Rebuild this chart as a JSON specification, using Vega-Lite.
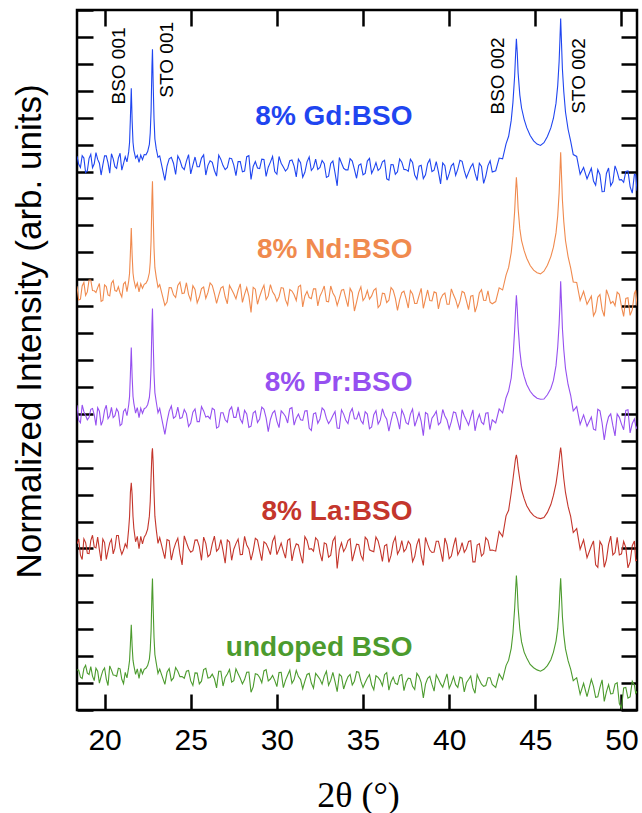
{
"$schema":"https://vega.github.io/schema/vega-lite/v6.json",
"width":560,"height":700,
"autosize":{"type":"none"},
"padding":{"left":77,"top":10,"right":5,"bottom":103},
"background":"white",
"config":{"view":{"stroke":"black","strokeWidth":2.5},"font":"Liberation Sans","axis":{"tickColor":"black","tickWidth":2.5,"domain":false,"grid":false}},
"datasets":{
"labels":[
{"label":"8% Gd:BSO","s":"Gd","x":37.87,"y":22.03},
{"label":"8% Nd:BSO","s":"Nd","x":37.87,"y":17.09},
{"label":"8% Pr:BSO","s":"Pr","x":37.87,"y":12.15},
{"label":"8% La:BSO","s":"La","x":37.87,"y":7.36},
{"label":"undoped BSO","s":"Un","x":37.87,"y":2.3}],
"peaks":[
{"t":"BSO 001","x":20.86,"y":23.92},
{"t":"STO 001","x":23.64,"y":24.15},
{"t":"BSO 002","x":42.81,"y":23.55},
{"t":"STO 002","x":47.51,"y":23.55}],
"xrd":[
{"s":"Gd","x":18.4,"y":20.57},{"s":"Gd","x":18.6,"y":20.15},{"s":"Gd","x":18.8,"y":20.5},{"s":"Gd","x":19.0,"y":20.03},{"s":"Gd","x":19.2,"y":20.64},{"s":"Gd","x":19.4,"y":20.29},{"s":"Gd","x":19.6,"y":20.45},{"s":"Gd","x":19.8,"y":19.87},{"s":"Gd","x":20.0,"y":20.58},{"s":"Gd","x":20.2,"y":20.32},{"s":"Gd","x":20.4,"y":20.66},{"s":"Gd","x":20.6,"y":20.18},{"s":"Gd","x":20.8,"y":20.5},{"s":"Gd","x":21.0,"y":20.05},{"s":"Gd","x":21.2,"y":20.55},
{"s":"Gd","x":21.3,"y":20.36},{"s":"Gd","x":21.4,"y":20.73},{"s":"Gd","x":21.45,"y":21.08},{"s":"Gd","x":21.5,"y":22.01},{"s":"Gd","x":21.55,"y":23.09},{"s":"Gd","x":21.6,"y":21.89},{"s":"Gd","x":21.65,"y":21.09},{"s":"Gd","x":21.7,"y":20.79},{"s":"Gd","x":21.8,"y":20.5},{"s":"Gd","x":21.9,"y":20.6},{"s":"Gd","x":22.0,"y":20.34},{"s":"Gd","x":22.1,"y":20.61},{"s":"Gd","x":22.2,"y":20.44},{"s":"Gd","x":22.3,"y":20.63},{"s":"Gd","x":22.4,"y":20.62},{"s":"Gd","x":22.5,"y":20.74},{"s":"Gd","x":22.6,"y":21.01},{"s":"Gd","x":22.65,"y":21.43},{"s":"Gd","x":22.7,"y":22.26},{"s":"Gd","x":22.75,"y":23.92},{"s":"Gd","x":22.78,"y":24.54},{"s":"Gd","x":22.82,"y":23.29},{"s":"Gd","x":22.87,"y":21.96},{"s":"Gd","x":22.92,"y":21.21},{"s":"Gd","x":23.0,"y":20.84},{"s":"Gd","x":23.1,"y":20.53},{"s":"Gd","x":23.2,"y":20.58},
{"s":"Gd","x":23.5,"y":19.67},{"s":"Gd","x":23.75,"y":20.47},{"s":"Gd","x":24,"y":20.31},{"s":"Gd","x":24.25,"y":20.58},{"s":"Gd","x":24.5,"y":20.16},{"s":"Gd","x":24.75,"y":20.39},{"s":"Gd","x":25,"y":19.91},{"s":"Gd","x":25.25,"y":20.54},{"s":"Gd","x":25.5,"y":20.18},{"s":"Gd","x":25.75,"y":20.62},{"s":"Gd","x":26,"y":20.23},{"s":"Gd","x":26.25,"y":20.34},{"s":"Gd","x":26.5,"y":19.83},{"s":"Gd","x":26.75,"y":20.45},{"s":"Gd","x":27,"y":20.07},{"s":"Gd","x":27.25,"y":20.5},{"s":"Gd","x":27.5,"y":20.24},{"s":"Gd","x":27.75,"y":20.37},{"s":"Gd","x":28,"y":19.99},{"s":"Gd","x":28.25,"y":20.55},{"s":"Gd","x":28.5,"y":19.71},{"s":"Gd","x":28.75,"y":20.37},{"s":"Gd","x":29,"y":20.11},{"s":"Gd","x":29.25,"y":20.45},{"s":"Gd","x":29.5,"y":20.16},{"s":"Gd","x":29.75,"y":20.56},{"s":"Gd","x":30,"y":19.9},{"s":"Gd","x":30.25,"y":20.31},{"s":"Gd","x":30.5,"y":20.02},{"s":"Gd","x":30.75,"y":20.4},{"s":"Gd","x":31,"y":20.2},{"s":"Gd","x":31.25,"y":20.46},{"s":"Gd","x":31.5,"y":19.79},{"s":"Gd","x":31.75,"y":20.36},{"s":"Gd","x":32,"y":20.04},{"s":"Gd","x":32.25,"y":20.46},{"s":"Gd","x":32.5,"y":20.15},{"s":"Gd","x":32.75,"y":20.29},{"s":"Gd","x":33,"y":19.83},{"s":"Gd","x":33.25,"y":20.39},{"s":"Gd","x":33.5,"y":19.47},{"s":"Gd","x":33.75,"y":20.32},{"s":"Gd","x":34,"y":20.06},{"s":"Gd","x":34.25,"y":20.48},{"s":"Gd","x":34.5,"y":20.08},{"s":"Gd","x":34.75,"y":20.23},{"s":"Gd","x":35,"y":19.88},{"s":"Gd","x":35.25,"y":20.39},{"s":"Gd","x":35.5,"y":19.93},{"s":"Gd","x":35.75,"y":20.33},{"s":"Gd","x":36,"y":20.12},{"s":"Gd","x":36.25,"y":20.42},{"s":"Gd","x":36.5,"y":19.68},{"s":"Gd","x":36.75,"y":20.25},{"s":"Gd","x":37,"y":19.99},{"s":"Gd","x":37.25,"y":20.35},{"s":"Gd","x":37.5,"y":20.07},{"s":"Gd","x":37.75,"y":20.46},{"s":"Gd","x":38,"y":19.87},{"s":"Gd","x":38.25,"y":20.2},{"s":"Gd","x":38.5,"y":19.74},{"s":"Gd","x":38.75,"y":20.3},{"s":"Gd","x":39,"y":20.0},{"s":"Gd","x":39.25,"y":20.37},{"s":"Gd","x":39.5,"y":19.54},{"s":"Gd","x":39.75,"y":20.22},{"s":"Gd","x":40,"y":19.92},{"s":"Gd","x":40.25,"y":20.3},{"s":"Gd","x":40.5,"y":20.09},{"s":"Gd","x":40.75,"y":20.38},{"s":"Gd","x":41,"y":19.77},{"s":"Gd","x":41.25,"y":20.17},{"s":"Gd","x":41.5,"y":19.94},{"s":"Gd","x":41.75,"y":20.31},{"s":"Gd","x":42,"y":19.56},{"s":"Gd","x":42.25,"y":20.22},{"s":"Gd","x":42.5,"y":19.98},
{"s":"Gd","x":42.7,"y":20.03},{"s":"Gd","x":42.9,"y":20.5},{"s":"Gd","x":43.1,"y":20.47},{"s":"Gd","x":43.3,"y":21.03},{"s":"Gd","x":43.45,"y":21.31},{"s":"Gd","x":43.6,"y":21.9},{"s":"Gd","x":43.7,"y":22.57},{"s":"Gd","x":43.8,"y":23.56},{"s":"Gd","x":43.85,"y":24.3},{"s":"Gd","x":43.9,"y":24.93},{"s":"Gd","x":43.95,"y":24.41},{"s":"Gd","x":44.0,"y":23.67},{"s":"Gd","x":44.1,"y":22.84},{"s":"Gd","x":44.2,"y":22.36},{"s":"Gd","x":44.35,"y":21.94},{"s":"Gd","x":44.5,"y":21.63},{"s":"Gd","x":44.7,"y":21.34},{"s":"Gd","x":44.9,"y":21.14},{"s":"Gd","x":45.1,"y":21.02},{"s":"Gd","x":45.3,"y":20.97},{"s":"Gd","x":45.5,"y":21.07},{"s":"Gd","x":45.7,"y":21.3},{"s":"Gd","x":45.9,"y":21.62},{"s":"Gd","x":46.05,"y":21.98},{"s":"Gd","x":46.2,"y":22.54},{"s":"Gd","x":46.3,"y":23.2},{"s":"Gd","x":46.38,"y":24.09},{"s":"Gd","x":46.43,"y":24.94},{"s":"Gd","x":46.47,"y":25.68},{"s":"Gd","x":46.52,"y":24.75},{"s":"Gd","x":46.57,"y":23.82},{"s":"Gd","x":46.65,"y":22.97},{"s":"Gd","x":46.75,"y":22.21},{"s":"Gd","x":46.9,"y":21.57},{"s":"Gd","x":47.05,"y":21.13},{"s":"Gd","x":47.2,"y":20.63},{"s":"Gd","x":47.4,"y":20.56},{"s":"Gd","x":47.6,"y":19.9},{"s":"Gd","x":47.8,"y":20.15},{"s":"Gd","x":48.0,"y":19.73},
{"s":"Gd","x":48.25,"y":20.12},{"s":"Gd","x":48.5,"y":19.49},{"s":"Gd","x":48.75,"y":19.88},{"s":"Gd","x":49.0,"y":19.26},{"s":"Gd","x":49.25,"y":20.13},{"s":"Gd","x":49.5,"y":19.62},{"s":"Gd","x":49.75,"y":19.99},{"s":"Gd","x":50.0,"y":19.7},{"s":"Gd","x":50.25,"y":20.0},{"s":"Gd","x":50.5,"y":19.44},{"s":"Gd","x":50.75,"y":19.9},{"s":"Gd","x":50.9,"y":19.29},
{"s":"Gd","x":18.5,"y":20.27},{"s":"Gd","x":18.7,"y":20.59},{"s":"Gd","x":18.9,"y":19.96},{"s":"Gd","x":19.1,"y":20.49},{"s":"Gd","x":19.3,"y":20.14},{"s":"Gd","x":19.5,"y":20.7},{"s":"Gd","x":19.7,"y":20.31},{"s":"Gd","x":19.9,"y":20.25},{"s":"Gd","x":20.1,"y":20.58},{"s":"Gd","x":20.3,"y":19.94},{"s":"Gd","x":20.5,"y":20.47},{"s":"Gd","x":20.7,"y":20.12},{"s":"Gd","x":20.9,"y":20.68},{"s":"Gd","x":21.1,"y":20.29},
{"s":"Gd","x":23.625,"y":20.2},{"s":"Gd","x":23.875,"y":20.53},{"s":"Gd","x":24.125,"y":19.89},{"s":"Gd","x":24.375,"y":20.42},{"s":"Gd","x":24.625,"y":20.07},{"s":"Gd","x":24.875,"y":20.63},{"s":"Gd","x":25.125,"y":20.24},{"s":"Gd","x":25.375,"y":20.18},{"s":"Gd","x":25.625,"y":20.5},{"s":"Gd","x":25.875,"y":19.87},{"s":"Gd","x":26.125,"y":20.4},{"s":"Gd","x":26.375,"y":20.04},{"s":"Gd","x":26.625,"y":20.61},{"s":"Gd","x":26.875,"y":20.22},{"s":"Gd","x":27.125,"y":20.15},{"s":"Gd","x":27.375,"y":20.48},{"s":"Gd","x":27.625,"y":19.85},{"s":"Gd","x":27.875,"y":20.37},{"s":"Gd","x":28.125,"y":20.02},{"s":"Gd","x":28.375,"y":20.59},{"s":"Gd","x":28.625,"y":20.19},{"s":"Gd","x":28.875,"y":20.13},{"s":"Gd","x":29.125,"y":20.46},{"s":"Gd","x":29.375,"y":19.82},{"s":"Gd","x":29.625,"y":20.35},{"s":"Gd","x":29.875,"y":20.0},{"s":"Gd","x":30.125,"y":20.56},{"s":"Gd","x":30.375,"y":20.17},{"s":"Gd","x":30.625,"y":20.11},{"s":"Gd","x":30.875,"y":20.43},{"s":"Gd","x":31.125,"y":19.8},{"s":"Gd","x":31.375,"y":20.33},{"s":"Gd","x":31.625,"y":19.97},{"s":"Gd","x":31.875,"y":20.54},{"s":"Gd","x":32.125,"y":20.15},{"s":"Gd","x":32.375,"y":20.08},{"s":"Gd","x":32.625,"y":20.41},{"s":"Gd","x":32.875,"y":19.78},{"s":"Gd","x":33.125,"y":20.3},{"s":"Gd","x":33.375,"y":19.95},{"s":"Gd","x":33.625,"y":20.52},{"s":"Gd","x":33.875,"y":20.12},{"s":"Gd","x":34.125,"y":20.06},{"s":"Gd","x":34.375,"y":20.39},{"s":"Gd","x":34.625,"y":19.75},{"s":"Gd","x":34.875,"y":20.28},{"s":"Gd","x":35.125,"y":19.93},{"s":"Gd","x":35.375,"y":20.49},{"s":"Gd","x":35.625,"y":20.1},{"s":"Gd","x":35.875,"y":20.04},{"s":"Gd","x":36.125,"y":20.36},{"s":"Gd","x":36.375,"y":19.73},{"s":"Gd","x":36.625,"y":20.26},{"s":"Gd","x":36.875,"y":19.9},{"s":"Gd","x":37.125,"y":20.47},{"s":"Gd","x":37.375,"y":20.08},{"s":"Gd","x":37.625,"y":20.01},{"s":"Gd","x":37.875,"y":20.34},{"s":"Gd","x":38.125,"y":19.71},{"s":"Gd","x":38.375,"y":20.23},{"s":"Gd","x":38.625,"y":19.88},{"s":"Gd","x":38.875,"y":20.45},{"s":"Gd","x":39.125,"y":20.05},{"s":"Gd","x":39.375,"y":19.99},{"s":"Gd","x":39.625,"y":20.32},{"s":"Gd","x":39.875,"y":19.68},{"s":"Gd","x":40.125,"y":20.21},{"s":"Gd","x":40.375,"y":19.86},{"s":"Gd","x":40.625,"y":20.42},{"s":"Gd","x":40.875,"y":20.03},{"s":"Gd","x":41.125,"y":19.97},{"s":"Gd","x":41.375,"y":20.29},{"s":"Gd","x":41.625,"y":19.66},{"s":"Gd","x":41.875,"y":20.19},{"s":"Gd","x":42.125,"y":19.83},{"s":"Gd","x":42.375,"y":20.4},
{"s":"Gd","x":48.375,"y":19.65},{"s":"Gd","x":48.625,"y":20.07},{"s":"Gd","x":48.875,"y":19.25},{"s":"Gd","x":49.125,"y":19.93},{"s":"Gd","x":49.375,"y":19.47},{"s":"Gd","x":49.625,"y":20.21},{"s":"Gd","x":49.875,"y":19.69},{"s":"Gd","x":50.125,"y":19.6},{"s":"Gd","x":50.375,"y":20.02},{"s":"Gd","x":50.625,"y":19.2},{"s":"Gd","x":50.825,"y":19.88},

{"s":"Nd","x":18.4,"y":15.74},{"s":"Nd","x":18.6,"y":15.26},{"s":"Nd","x":18.8,"y":15.88},{"s":"Nd","x":19.0,"y":15.53},{"s":"Nd","x":19.2,"y":15.97},{"s":"Nd","x":19.4,"y":15.57},{"s":"Nd","x":19.6,"y":15.69},{"s":"Nd","x":19.8,"y":15.18},{"s":"Nd","x":20.0,"y":15.79},{"s":"Nd","x":20.2,"y":15.42},{"s":"Nd","x":20.4,"y":15.85},{"s":"Nd","x":20.6,"y":15.58},{"s":"Nd","x":20.8,"y":15.72},{"s":"Nd","x":21.0,"y":15.34},{"s":"Nd","x":21.2,"y":15.9},
{"s":"Nd","x":21.3,"y":15.54},{"s":"Nd","x":21.4,"y":15.93},{"s":"Nd","x":21.45,"y":16.22},{"s":"Nd","x":21.5,"y":17.0},{"s":"Nd","x":21.55,"y":17.9},{"s":"Nd","x":21.6,"y":16.9},{"s":"Nd","x":21.65,"y":16.23},{"s":"Nd","x":21.7,"y":15.98},{"s":"Nd","x":21.8,"y":15.69},{"s":"Nd","x":21.9,"y":15.86},{"s":"Nd","x":22.0,"y":15.53},{"s":"Nd","x":22.1,"y":15.83},{"s":"Nd","x":22.2,"y":15.66},{"s":"Nd","x":22.3,"y":15.81},{"s":"Nd","x":22.4,"y":15.85},{"s":"Nd","x":22.5,"y":15.97},{"s":"Nd","x":22.6,"y":16.24},{"s":"Nd","x":22.65,"y":16.63},{"s":"Nd","x":22.7,"y":17.43},{"s":"Nd","x":22.75,"y":19.04},{"s":"Nd","x":22.78,"y":19.64},{"s":"Nd","x":22.82,"y":18.44},{"s":"Nd","x":22.87,"y":17.15},{"s":"Nd","x":22.92,"y":16.43},{"s":"Nd","x":23.0,"y":16.07},{"s":"Nd","x":23.1,"y":15.7},{"s":"Nd","x":23.2,"y":15.8},
{"s":"Nd","x":23.5,"y":15.03},{"s":"Nd","x":23.75,"y":15.69},{"s":"Nd","x":24,"y":15.42},{"s":"Nd","x":24.25,"y":15.77},{"s":"Nd","x":24.5,"y":15.47},{"s":"Nd","x":24.75,"y":15.87},{"s":"Nd","x":25,"y":15.22},{"s":"Nd","x":25.25,"y":15.62},{"s":"Nd","x":25.5,"y":15.33},{"s":"Nd","x":25.75,"y":15.71},{"s":"Nd","x":26,"y":15.51},{"s":"Nd","x":26.25,"y":15.77},{"s":"Nd","x":26.5,"y":15.1},{"s":"Nd","x":26.75,"y":15.67},{"s":"Nd","x":27,"y":15.34},{"s":"Nd","x":27.25,"y":15.77},{"s":"Nd","x":27.5,"y":15.46},{"s":"Nd","x":27.75,"y":15.59},{"s":"Nd","x":28,"y":15.14},{"s":"Nd","x":28.25,"y":15.69},{"s":"Nd","x":28.5,"y":14.77},{"s":"Nd","x":28.75,"y":15.63},{"s":"Nd","x":29,"y":15.36},{"s":"Nd","x":29.25,"y":15.78},{"s":"Nd","x":29.5,"y":15.38},{"s":"Nd","x":29.75,"y":15.53},{"s":"Nd","x":30,"y":15.18},{"s":"Nd","x":30.25,"y":15.69},{"s":"Nd","x":30.5,"y":15.23},{"s":"Nd","x":30.75,"y":15.62},{"s":"Nd","x":31,"y":15.42},{"s":"Nd","x":31.25,"y":15.72},{"s":"Nd","x":31.5,"y":14.97},{"s":"Nd","x":31.75,"y":15.55},{"s":"Nd","x":32,"y":15.28},{"s":"Nd","x":32.25,"y":15.64},{"s":"Nd","x":32.5,"y":15.37},{"s":"Nd","x":32.75,"y":15.75},{"s":"Nd","x":33,"y":15.16},{"s":"Nd","x":33.25,"y":15.49},{"s":"Nd","x":33.5,"y":15.03},{"s":"Nd","x":33.75,"y":15.59},{"s":"Nd","x":34,"y":15.29},{"s":"Nd","x":34.25,"y":15.66},{"s":"Nd","x":34.5,"y":14.82},{"s":"Nd","x":34.75,"y":15.51},{"s":"Nd","x":35,"y":15.21},{"s":"Nd","x":35.25,"y":15.58},{"s":"Nd","x":35.5,"y":15.38},{"s":"Nd","x":35.75,"y":15.66},{"s":"Nd","x":36,"y":15.05},{"s":"Nd","x":36.25,"y":15.46},{"s":"Nd","x":36.5,"y":15.22},{"s":"Nd","x":36.75,"y":15.59},{"s":"Nd","x":37,"y":14.84},{"s":"Nd","x":37.25,"y":15.5},{"s":"Nd","x":37.5,"y":15.27},{"s":"Nd","x":37.75,"y":15.58},{"s":"Nd","x":38,"y":15.1},{"s":"Nd","x":38.25,"y":15.39},{"s":"Nd","x":38.5,"y":14.92},{"s":"Nd","x":38.75,"y":15.6},{"s":"Nd","x":39,"y":15.2},{"s":"Nd","x":39.25,"y":15.49},{"s":"Nd","x":39.5,"y":15.26},{"s":"Nd","x":39.75,"y":15.49},{"s":"Nd","x":40,"y":15.07},{"s":"Nd","x":40.25,"y":15.42},{"s":"Nd","x":40.5,"y":14.95},{"s":"Nd","x":40.75,"y":15.55},{"s":"Nd","x":41,"y":15.2},{"s":"Nd","x":41.25,"y":15.37},{"s":"Nd","x":41.5,"y":14.78},{"s":"Nd","x":41.75,"y":15.49},{"s":"Nd","x":42,"y":15.22},{"s":"Nd","x":42.25,"y":15.57},{"s":"Nd","x":42.5,"y":15.09},
{"s":"Nd","x":42.7,"y":15.17},{"s":"Nd","x":42.9,"y":15.68},{"s":"Nd","x":43.1,"y":15.6},{"s":"Nd","x":43.3,"y":16.15},{"s":"Nd","x":43.45,"y":16.44},{"s":"Nd","x":43.6,"y":16.99},{"s":"Nd","x":43.7,"y":17.61},{"s":"Nd","x":43.8,"y":18.53},{"s":"Nd","x":43.85,"y":19.21},{"s":"Nd","x":43.9,"y":19.79},{"s":"Nd","x":43.95,"y":19.31},{"s":"Nd","x":44.0,"y":18.63},{"s":"Nd","x":44.1,"y":17.87},{"s":"Nd","x":44.2,"y":17.43},{"s":"Nd","x":44.35,"y":17.06},{"s":"Nd","x":44.5,"y":16.78},{"s":"Nd","x":44.7,"y":16.51},{"s":"Nd","x":44.9,"y":16.34},{"s":"Nd","x":45.1,"y":16.24},{"s":"Nd","x":45.3,"y":16.2},{"s":"Nd","x":45.5,"y":16.3},{"s":"Nd","x":45.7,"y":16.52},{"s":"Nd","x":45.9,"y":16.84},{"s":"Nd","x":46.05,"y":17.19},{"s":"Nd","x":46.2,"y":17.72},{"s":"Nd","x":46.3,"y":18.36},{"s":"Nd","x":46.38,"y":19.2},{"s":"Nd","x":46.43,"y":20.01},{"s":"Nd","x":46.47,"y":20.72},{"s":"Nd","x":46.52,"y":19.84},{"s":"Nd","x":46.57,"y":18.96},{"s":"Nd","x":46.65,"y":18.15},{"s":"Nd","x":46.75,"y":17.44},{"s":"Nd","x":46.9,"y":16.84},{"s":"Nd","x":47.05,"y":16.42},{"s":"Nd","x":47.2,"y":15.9},{"s":"Nd","x":47.4,"y":15.88},{"s":"Nd","x":47.6,"y":15.21},{"s":"Nd","x":47.8,"y":15.55},{"s":"Nd","x":48.0,"y":15.07},
{"s":"Nd","x":48.25,"y":15.37},{"s":"Nd","x":48.5,"y":14.8},{"s":"Nd","x":48.75,"y":15.43},{"s":"Nd","x":49.0,"y":14.62},{"s":"Nd","x":49.25,"y":15.38},{"s":"Nd","x":49.5,"y":15.18},{"s":"Nd","x":49.75,"y":15.52},{"s":"Nd","x":50.0,"y":14.98},{"s":"Nd","x":50.25,"y":15.29},{"s":"Nd","x":50.5,"y":14.66},{"s":"Nd","x":50.75,"y":15.47},{"s":"Nd","x":50.9,"y":15.02},
{"s":"Nd","x":18.5,"y":15.23},{"s":"Nd","x":18.7,"y":15.75},{"s":"Nd","x":18.9,"y":15.4},{"s":"Nd","x":19.1,"y":15.97},{"s":"Nd","x":19.3,"y":15.58},{"s":"Nd","x":19.5,"y":15.51},{"s":"Nd","x":19.7,"y":15.84},{"s":"Nd","x":19.9,"y":15.21},{"s":"Nd","x":20.1,"y":15.73},{"s":"Nd","x":20.3,"y":15.38},{"s":"Nd","x":20.5,"y":15.95},{"s":"Nd","x":20.7,"y":15.55},{"s":"Nd","x":20.9,"y":15.49},{"s":"Nd","x":21.1,"y":15.82},
{"s":"Nd","x":23.625,"y":15.15},{"s":"Nd","x":23.875,"y":15.68},{"s":"Nd","x":24.125,"y":15.32},{"s":"Nd","x":24.375,"y":15.89},{"s":"Nd","x":24.625,"y":15.49},{"s":"Nd","x":24.875,"y":15.43},{"s":"Nd","x":25.125,"y":15.76},{"s":"Nd","x":25.375,"y":15.12},{"s":"Nd","x":25.625,"y":15.65},{"s":"Nd","x":25.875,"y":15.29},{"s":"Nd","x":26.125,"y":15.86},{"s":"Nd","x":26.375,"y":15.47},{"s":"Nd","x":26.625,"y":15.4},{"s":"Nd","x":26.875,"y":15.73},{"s":"Nd","x":27.125,"y":15.09},{"s":"Nd","x":27.375,"y":15.62},{"s":"Nd","x":27.625,"y":15.27},{"s":"Nd","x":27.875,"y":15.83},{"s":"Nd","x":28.125,"y":15.44},{"s":"Nd","x":28.375,"y":15.37},{"s":"Nd","x":28.625,"y":15.7},{"s":"Nd","x":28.875,"y":15.07},{"s":"Nd","x":29.125,"y":15.59},{"s":"Nd","x":29.375,"y":15.24},{"s":"Nd","x":29.625,"y":15.8},{"s":"Nd","x":29.875,"y":15.41},{"s":"Nd","x":30.125,"y":15.35},{"s":"Nd","x":30.375,"y":15.67},{"s":"Nd","x":30.625,"y":15.04},{"s":"Nd","x":30.875,"y":15.56},{"s":"Nd","x":31.125,"y":15.21},{"s":"Nd","x":31.375,"y":15.78},{"s":"Nd","x":31.625,"y":15.38},{"s":"Nd","x":31.875,"y":15.32},{"s":"Nd","x":32.125,"y":15.64},{"s":"Nd","x":32.375,"y":15.01},{"s":"Nd","x":32.625,"y":15.54},{"s":"Nd","x":32.875,"y":15.18},{"s":"Nd","x":33.125,"y":15.75},{"s":"Nd","x":33.375,"y":15.35},{"s":"Nd","x":33.625,"y":15.29},{"s":"Nd","x":33.875,"y":15.62},{"s":"Nd","x":34.125,"y":14.98},{"s":"Nd","x":34.375,"y":15.51},{"s":"Nd","x":34.625,"y":15.15},{"s":"Nd","x":34.875,"y":15.72},{"s":"Nd","x":35.125,"y":15.33},{"s":"Nd","x":35.375,"y":15.26},{"s":"Nd","x":35.625,"y":15.59},{"s":"Nd","x":35.875,"y":14.95},{"s":"Nd","x":36.125,"y":15.48},{"s":"Nd","x":36.375,"y":15.13},{"s":"Nd","x":36.625,"y":15.69},{"s":"Nd","x":36.875,"y":15.3},{"s":"Nd","x":37.125,"y":15.23},{"s":"Nd","x":37.375,"y":15.56},{"s":"Nd","x":37.625,"y":14.93},{"s":"Nd","x":37.875,"y":15.45},{"s":"Nd","x":38.125,"y":15.1},{"s":"Nd","x":38.375,"y":15.66},{"s":"Nd","x":38.625,"y":15.27},{"s":"Nd","x":38.875,"y":15.21},{"s":"Nd","x":39.125,"y":15.53},{"s":"Nd","x":39.375,"y":14.9},{"s":"Nd","x":39.625,"y":15.42},{"s":"Nd","x":39.875,"y":15.07},{"s":"Nd","x":40.125,"y":15.64},{"s":"Nd","x":40.375,"y":15.24},{"s":"Nd","x":40.625,"y":15.18},{"s":"Nd","x":40.875,"y":15.5},{"s":"Nd","x":41.125,"y":14.87},{"s":"Nd","x":41.375,"y":15.4},{"s":"Nd","x":41.625,"y":15.04},{"s":"Nd","x":41.875,"y":15.61},{"s":"Nd","x":42.125,"y":15.21},{"s":"Nd","x":42.375,"y":15.15},
{"s":"Nd","x":48.375,"y":14.64},{"s":"Nd","x":48.625,"y":15.33},{"s":"Nd","x":48.875,"y":14.87},{"s":"Nd","x":49.125,"y":15.61},{"s":"Nd","x":49.375,"y":15.1},{"s":"Nd","x":49.625,"y":15.02},{"s":"Nd","x":49.875,"y":15.44},{"s":"Nd","x":50.125,"y":14.62},{"s":"Nd","x":50.375,"y":15.31},{"s":"Nd","x":50.625,"y":14.86},{"s":"Nd","x":50.825,"y":15.59},

{"s":"Pr","x":18.4,"y":11.32},{"s":"Pr","x":18.6,"y":10.67},{"s":"Pr","x":18.8,"y":11.08},{"s":"Pr","x":19.0,"y":10.78},{"s":"Pr","x":19.2,"y":11.17},{"s":"Pr","x":19.4,"y":10.97},{"s":"Pr","x":19.6,"y":11.23},{"s":"Pr","x":19.8,"y":10.57},{"s":"Pr","x":20.0,"y":11.14},{"s":"Pr","x":20.2,"y":10.82},{"s":"Pr","x":20.4,"y":11.24},{"s":"Pr","x":20.6,"y":10.93},{"s":"Pr","x":20.8,"y":11.07},{"s":"Pr","x":21.0,"y":10.62},{"s":"Pr","x":21.2,"y":11.18},
{"s":"Pr","x":21.3,"y":10.93},{"s":"Pr","x":21.4,"y":11.33},{"s":"Pr","x":21.45,"y":11.64},{"s":"Pr","x":21.5,"y":12.49},{"s":"Pr","x":21.55,"y":13.46},{"s":"Pr","x":21.6,"y":12.38},{"s":"Pr","x":21.65,"y":11.65},{"s":"Pr","x":21.7,"y":11.39},{"s":"Pr","x":21.8,"y":11.03},{"s":"Pr","x":21.9,"y":11.23},{"s":"Pr","x":22.0,"y":10.86},{"s":"Pr","x":22.1,"y":11.21},{"s":"Pr","x":22.2,"y":11.02},{"s":"Pr","x":22.3,"y":11.19},{"s":"Pr","x":22.4,"y":11.23},{"s":"Pr","x":22.5,"y":11.34},{"s":"Pr","x":22.6,"y":11.61},{"s":"Pr","x":22.65,"y":11.99},{"s":"Pr","x":22.7,"y":12.77},{"s":"Pr","x":22.75,"y":14.33},{"s":"Pr","x":22.78,"y":14.91},{"s":"Pr","x":22.82,"y":13.74},{"s":"Pr","x":22.87,"y":12.49},{"s":"Pr","x":22.92,"y":11.79},{"s":"Pr","x":23.0,"y":11.44},{"s":"Pr","x":23.1,"y":11.04},{"s":"Pr","x":23.2,"y":11.2},
{"s":"Pr","x":23.5,"y":10.24},{"s":"Pr","x":23.75,"y":11.1},{"s":"Pr","x":24,"y":10.84},{"s":"Pr","x":24.25,"y":11.25},{"s":"Pr","x":24.5,"y":10.86},{"s":"Pr","x":24.75,"y":11.01},{"s":"Pr","x":25,"y":10.66},{"s":"Pr","x":25.25,"y":11.18},{"s":"Pr","x":25.5,"y":10.71},{"s":"Pr","x":25.75,"y":11.11},{"s":"Pr","x":26,"y":10.91},{"s":"Pr","x":26.25,"y":11.21},{"s":"Pr","x":26.5,"y":10.47},{"s":"Pr","x":26.75,"y":11.04},{"s":"Pr","x":27,"y":10.78},{"s":"Pr","x":27.25,"y":11.14},{"s":"Pr","x":27.5,"y":10.87},{"s":"Pr","x":27.75,"y":11.26},{"s":"Pr","x":28,"y":10.66},{"s":"Pr","x":28.25,"y":11.0},{"s":"Pr","x":28.5,"y":10.54},{"s":"Pr","x":28.75,"y":11.1},{"s":"Pr","x":29,"y":10.81},{"s":"Pr","x":29.25,"y":11.17},{"s":"Pr","x":29.5,"y":10.34},{"s":"Pr","x":29.75,"y":11.03},{"s":"Pr","x":30,"y":10.73},{"s":"Pr","x":30.25,"y":11.11},{"s":"Pr","x":30.5,"y":10.9},{"s":"Pr","x":30.75,"y":11.19},{"s":"Pr","x":31,"y":10.58},{"s":"Pr","x":31.25,"y":10.99},{"s":"Pr","x":31.5,"y":10.76},{"s":"Pr","x":31.75,"y":11.12},{"s":"Pr","x":32,"y":10.38},{"s":"Pr","x":32.25,"y":11.04},{"s":"Pr","x":32.5,"y":10.81},{"s":"Pr","x":32.75,"y":11.13},{"s":"Pr","x":33,"y":10.64},{"s":"Pr","x":33.25,"y":10.94},{"s":"Pr","x":33.5,"y":10.47},{"s":"Pr","x":33.75,"y":11.15},{"s":"Pr","x":34,"y":10.76},{"s":"Pr","x":34.25,"y":11.04},{"s":"Pr","x":34.5,"y":10.82},{"s":"Pr","x":34.75,"y":11.05},{"s":"Pr","x":35,"y":10.63},{"s":"Pr","x":35.25,"y":10.99},{"s":"Pr","x":35.5,"y":10.51},{"s":"Pr","x":35.75,"y":11.12},{"s":"Pr","x":36,"y":10.77},{"s":"Pr","x":36.25,"y":10.94},{"s":"Pr","x":36.5,"y":10.36},{"s":"Pr","x":36.75,"y":11.06},{"s":"Pr","x":37,"y":10.8},{"s":"Pr","x":37.25,"y":11.15},{"s":"Pr","x":37.5,"y":10.67},{"s":"Pr","x":37.75,"y":10.99},{"s":"Pr","x":38,"y":10.54},{"s":"Pr","x":38.25,"y":11.04},{"s":"Pr","x":38.5,"y":10.19},{"s":"Pr","x":38.75,"y":10.99},{"s":"Pr","x":39,"y":10.84},{"s":"Pr","x":39.25,"y":11.1},{"s":"Pr","x":39.5,"y":10.68},{"s":"Pr","x":39.75,"y":10.92},{"s":"Pr","x":40,"y":10.44},{"s":"Pr","x":40.25,"y":11.07},{"s":"Pr","x":40.5,"y":10.71},{"s":"Pr","x":40.75,"y":11.15},{"s":"Pr","x":41,"y":10.76},{"s":"Pr","x":41.25,"y":10.88},{"s":"Pr","x":41.5,"y":10.37},{"s":"Pr","x":41.75,"y":10.98},{"s":"Pr","x":42,"y":10.61},{"s":"Pr","x":42.25,"y":11.04},{"s":"Pr","x":42.5,"y":10.78},
{"s":"Pr","x":42.7,"y":10.66},{"s":"Pr","x":42.9,"y":11.18},{"s":"Pr","x":43.1,"y":11.04},{"s":"Pr","x":43.3,"y":11.6},{"s":"Pr","x":43.45,"y":11.85},{"s":"Pr","x":43.6,"y":12.33},{"s":"Pr","x":43.7,"y":13.04},{"s":"Pr","x":43.8,"y":14.12},{"s":"Pr","x":43.85,"y":14.81},{"s":"Pr","x":43.9,"y":15.4},{"s":"Pr","x":43.95,"y":14.91},{"s":"Pr","x":44.0,"y":14.23},{"s":"Pr","x":44.1,"y":13.34},{"s":"Pr","x":44.2,"y":12.79},{"s":"Pr","x":44.35,"y":12.39},{"s":"Pr","x":44.5,"y":12.09},{"s":"Pr","x":44.7,"y":11.84},{"s":"Pr","x":44.9,"y":11.68},{"s":"Pr","x":45.1,"y":11.58},{"s":"Pr","x":45.3,"y":11.54},{"s":"Pr","x":45.5,"y":11.55},{"s":"Pr","x":45.7,"y":11.71},{"s":"Pr","x":45.9,"y":11.94},{"s":"Pr","x":46.05,"y":12.24},{"s":"Pr","x":46.2,"y":12.79},{"s":"Pr","x":46.3,"y":13.49},{"s":"Pr","x":46.38,"y":14.34},{"s":"Pr","x":46.43,"y":15.09},{"s":"Pr","x":46.47,"y":15.92},{"s":"Pr","x":46.52,"y":15.09},{"s":"Pr","x":46.57,"y":14.19},{"s":"Pr","x":46.65,"y":13.39},{"s":"Pr","x":46.75,"y":12.69},{"s":"Pr","x":46.9,"y":12.09},{"s":"Pr","x":47.05,"y":11.69},{"s":"Pr","x":47.2,"y":11.11},{"s":"Pr","x":47.4,"y":11.27},{"s":"Pr","x":47.6,"y":10.61},{"s":"Pr","x":47.8,"y":10.96},{"s":"Pr","x":48.0,"y":10.54},
{"s":"Pr","x":48.25,"y":10.88},{"s":"Pr","x":48.5,"y":10.39},{"s":"Pr","x":48.75,"y":11.11},{"s":"Pr","x":49.0,"y":10.03},{"s":"Pr","x":49.25,"y":10.89},{"s":"Pr","x":49.5,"y":10.56},{"s":"Pr","x":49.75,"y":11.0},{"s":"Pr","x":50.0,"y":10.62},{"s":"Pr","x":50.25,"y":11.13},{"s":"Pr","x":50.5,"y":10.29},{"s":"Pr","x":50.75,"y":10.81},{"s":"Pr","x":50.9,"y":10.44},
{"s":"Pr","x":18.5,"y":10.76},{"s":"Pr","x":18.7,"y":11.33},{"s":"Pr","x":18.9,"y":10.94},{"s":"Pr","x":19.1,"y":10.87},{"s":"Pr","x":19.3,"y":11.2},{"s":"Pr","x":19.5,"y":10.57},{"s":"Pr","x":19.7,"y":11.1},{"s":"Pr","x":19.9,"y":10.75},{"s":"Pr","x":20.1,"y":11.32},{"s":"Pr","x":20.3,"y":10.93},{"s":"Pr","x":20.5,"y":10.86},{"s":"Pr","x":20.7,"y":11.19},{"s":"Pr","x":20.9,"y":10.56},{"s":"Pr","x":21.1,"y":11.09},
{"s":"Pr","x":23.625,"y":10.72},{"s":"Pr","x":23.875,"y":11.29},{"s":"Pr","x":24.125,"y":10.9},{"s":"Pr","x":24.375,"y":10.83},{"s":"Pr","x":24.625,"y":11.16},{"s":"Pr","x":24.875,"y":10.53},{"s":"Pr","x":25.125,"y":11.06},{"s":"Pr","x":25.375,"y":10.71},{"s":"Pr","x":25.625,"y":11.27},{"s":"Pr","x":25.875,"y":10.88},{"s":"Pr","x":26.125,"y":10.82},{"s":"Pr","x":26.375,"y":11.15},{"s":"Pr","x":26.625,"y":10.52},{"s":"Pr","x":26.875,"y":11.04},{"s":"Pr","x":27.125,"y":10.69},{"s":"Pr","x":27.375,"y":11.26},{"s":"Pr","x":27.625,"y":10.87},{"s":"Pr","x":27.875,"y":10.81},{"s":"Pr","x":28.125,"y":11.13},{"s":"Pr","x":28.375,"y":10.5},{"s":"Pr","x":28.625,"y":11.03},{"s":"Pr","x":28.875,"y":10.68},{"s":"Pr","x":29.125,"y":11.25},{"s":"Pr","x":29.375,"y":10.85},{"s":"Pr","x":29.625,"y":10.79},{"s":"Pr","x":29.875,"y":11.12},{"s":"Pr","x":30.125,"y":10.49},{"s":"Pr","x":30.375,"y":11.02},{"s":"Pr","x":30.625,"y":10.66},{"s":"Pr","x":30.875,"y":11.23},{"s":"Pr","x":31.125,"y":10.84},{"s":"Pr","x":31.375,"y":10.78},{"s":"Pr","x":31.625,"y":11.11},{"s":"Pr","x":31.875,"y":10.47},{"s":"Pr","x":32.125,"y":11.0},{"s":"Pr","x":32.375,"y":10.65},{"s":"Pr","x":32.625,"y":11.22},{"s":"Pr","x":32.875,"y":10.83},{"s":"Pr","x":33.125,"y":10.76},{"s":"Pr","x":33.375,"y":11.09},{"s":"Pr","x":33.625,"y":10.46},{"s":"Pr","x":33.875,"y":10.99},{"s":"Pr","x":34.125,"y":10.64},{"s":"Pr","x":34.375,"y":11.2},{"s":"Pr","x":34.625,"y":10.81},{"s":"Pr","x":34.875,"y":10.75},{"s":"Pr","x":35.125,"y":11.08},{"s":"Pr","x":35.375,"y":10.45},{"s":"Pr","x":35.625,"y":10.97},{"s":"Pr","x":35.875,"y":10.62},{"s":"Pr","x":36.125,"y":11.19},{"s":"Pr","x":36.375,"y":10.8},{"s":"Pr","x":36.625,"y":10.74},{"s":"Pr","x":36.875,"y":11.06},{"s":"Pr","x":37.125,"y":10.43},{"s":"Pr","x":37.375,"y":10.96},{"s":"Pr","x":37.625,"y":10.61},{"s":"Pr","x":37.875,"y":11.18},{"s":"Pr","x":38.125,"y":10.78},{"s":"Pr","x":38.375,"y":10.72},{"s":"Pr","x":38.625,"y":11.05},{"s":"Pr","x":38.875,"y":10.42},{"s":"Pr","x":39.125,"y":10.95},{"s":"Pr","x":39.375,"y":10.59},{"s":"Pr","x":39.625,"y":11.16},{"s":"Pr","x":39.875,"y":10.77},{"s":"Pr","x":40.125,"y":10.71},{"s":"Pr","x":40.375,"y":11.04},{"s":"Pr","x":40.625,"y":10.4},{"s":"Pr","x":40.875,"y":10.93},{"s":"Pr","x":41.125,"y":10.58},{"s":"Pr","x":41.375,"y":11.15},{"s":"Pr","x":41.625,"y":10.76},{"s":"Pr","x":41.875,"y":10.69},{"s":"Pr","x":42.125,"y":11.02},{"s":"Pr","x":42.375,"y":10.39},
{"s":"Pr","x":48.375,"y":10.43},{"s":"Pr","x":48.625,"y":11.17},{"s":"Pr","x":48.875,"y":10.66},{"s":"Pr","x":49.125,"y":10.57},{"s":"Pr","x":49.375,"y":11.0},{"s":"Pr","x":49.625,"y":10.18},{"s":"Pr","x":49.875,"y":10.87},{"s":"Pr","x":50.125,"y":10.41},{"s":"Pr","x":50.375,"y":11.15},{"s":"Pr","x":50.625,"y":10.64},{"s":"Pr","x":50.825,"y":10.55},

{"s":"La","x":18.4,"y":6.17},{"s":"La","x":18.6,"y":5.75},{"s":"La","x":18.8,"y":6.36},{"s":"La","x":19.0,"y":5.82},{"s":"La","x":19.2,"y":6.29},{"s":"La","x":19.4,"y":6.06},{"s":"La","x":19.6,"y":6.42},{"s":"La","x":19.8,"y":5.54},{"s":"La","x":20.0,"y":6.22},{"s":"La","x":20.2,"y":5.91},{"s":"La","x":20.4,"y":6.34},{"s":"La","x":20.6,"y":6.01},{"s":"La","x":20.8,"y":6.48},{"s":"La","x":21.0,"y":5.78},{"s":"La","x":21.2,"y":6.17},
{"s":"La","x":21.3,"y":6.04},{"s":"La","x":21.4,"y":6.73},{"s":"La","x":21.45,"y":7.18},{"s":"La","x":21.5,"y":8.09},{"s":"La","x":21.55,"y":8.44},{"s":"La","x":21.6,"y":7.99},{"s":"La","x":21.65,"y":7.19},{"s":"La","x":21.7,"y":6.74},{"s":"La","x":21.8,"y":6.25},{"s":"La","x":21.9,"y":6.45},{"s":"La","x":22.0,"y":5.99},{"s":"La","x":22.1,"y":6.45},{"s":"La","x":22.2,"y":6.17},{"s":"La","x":22.3,"y":6.42},{"s":"La","x":22.4,"y":6.53},{"s":"La","x":22.5,"y":6.72},{"s":"La","x":22.6,"y":7.2},{"s":"La","x":22.65,"y":7.74},{"s":"La","x":22.7,"y":8.64},{"s":"La","x":22.75,"y":9.54},{"s":"La","x":22.78,"y":9.72},{"s":"La","x":22.82,"y":9.18},{"s":"La","x":22.87,"y":8.1},{"s":"La","x":22.92,"y":7.2},{"s":"La","x":23.0,"y":6.7},{"s":"La","x":23.1,"y":6.19},{"s":"La","x":23.2,"y":6.4},
{"s":"La","x":23.5,"y":5.62},{"s":"La","x":23.75,"y":6.29},{"s":"La","x":24,"y":5.95},{"s":"La","x":24.25,"y":6.38},{"s":"La","x":24.5,"y":5.39},{"s":"La","x":24.75,"y":6.22},{"s":"La","x":25,"y":5.86},{"s":"La","x":25.25,"y":6.31},{"s":"La","x":25.5,"y":6.07},{"s":"La","x":25.75,"y":6.42},{"s":"La","x":26,"y":5.69},{"s":"La","x":26.25,"y":6.17},{"s":"La","x":26.5,"y":5.9},{"s":"La","x":26.75,"y":6.33},{"s":"La","x":27,"y":5.45},{"s":"La","x":27.25,"y":6.24},{"s":"La","x":27.5,"y":5.97},{"s":"La","x":27.75,"y":6.35},{"s":"La","x":28,"y":5.78},{"s":"La","x":28.25,"y":6.13},{"s":"La","x":28.5,"y":5.57},{"s":"La","x":28.75,"y":6.38},{"s":"La","x":29,"y":5.91},{"s":"La","x":29.25,"y":6.25},{"s":"La","x":29.5,"y":6.0},{"s":"La","x":29.75,"y":6.27},{"s":"La","x":30,"y":5.77},{"s":"La","x":30.25,"y":6.2},{"s":"La","x":30.5,"y":5.64},{"s":"La","x":30.75,"y":6.36},{"s":"La","x":31,"y":5.94},{"s":"La","x":31.25,"y":6.13},{"s":"La","x":31.5,"y":5.45},{"s":"La","x":31.75,"y":6.3},{"s":"La","x":32,"y":5.99},{"s":"La","x":32.25,"y":6.4},{"s":"La","x":32.5,"y":5.83},{"s":"La","x":32.75,"y":6.21},{"s":"La","x":33,"y":5.68},{"s":"La","x":33.25,"y":6.28},{"s":"La","x":33.5,"y":5.26},{"s":"La","x":33.75,"y":6.21},{"s":"La","x":34,"y":6.03},{"s":"La","x":34.25,"y":6.36},{"s":"La","x":34.5,"y":5.85},{"s":"La","x":34.75,"y":6.14},{"s":"La","x":35,"y":5.57},{"s":"La","x":35.25,"y":6.32},{"s":"La","x":35.5,"y":5.91},{"s":"La","x":35.75,"y":6.43},{"s":"La","x":36,"y":5.95},{"s":"La","x":36.25,"y":6.1},{"s":"La","x":36.5,"y":5.48},{"s":"La","x":36.75,"y":6.22},{"s":"La","x":37,"y":5.79},{"s":"La","x":37.25,"y":6.29},{"s":"La","x":37.5,"y":5.99},{"s":"La","x":37.75,"y":6.15},{"s":"La","x":38,"y":5.7},{"s":"La","x":38.25,"y":6.37},{"s":"La","x":38.5,"y":5.37},{"s":"La","x":38.75,"y":6.16},{"s":"La","x":39,"y":5.85},{"s":"La","x":39.25,"y":6.27},{"s":"La","x":39.5,"y":5.92},{"s":"La","x":39.75,"y":6.39},{"s":"La","x":40,"y":5.62},{"s":"La","x":40.25,"y":6.1},{"s":"La","x":40.5,"y":5.76},{"s":"La","x":40.75,"y":6.22},{"s":"La","x":41,"y":5.99},{"s":"La","x":41.25,"y":6.29},{"s":"La","x":41.5,"y":5.5},{"s":"La","x":41.75,"y":6.18},{"s":"La","x":42,"y":5.81},{"s":"La","x":42.25,"y":6.3},{"s":"La","x":42.5,"y":5.94},
{"s":"La","x":42.7,"y":5.9},{"s":"La","x":42.9,"y":6.63},{"s":"La","x":43.1,"y":6.44},{"s":"La","x":43.3,"y":7.21},{"s":"La","x":43.45,"y":7.42},{"s":"La","x":43.6,"y":8.07},{"s":"La","x":43.7,"y":8.56},{"s":"La","x":43.8,"y":9.08},{"s":"La","x":43.85,"y":9.34},{"s":"La","x":43.9,"y":9.48},{"s":"La","x":43.95,"y":9.3},{"s":"La","x":44.0,"y":9.0},{"s":"La","x":44.1,"y":8.56},{"s":"La","x":44.2,"y":8.18},{"s":"La","x":44.35,"y":7.85},{"s":"La","x":44.5,"y":7.59},{"s":"La","x":44.7,"y":7.37},{"s":"La","x":44.9,"y":7.22},{"s":"La","x":45.1,"y":7.14},{"s":"La","x":45.3,"y":7.11},{"s":"La","x":45.5,"y":7.15},{"s":"La","x":45.7,"y":7.34},{"s":"La","x":45.9,"y":7.63},{"s":"La","x":46.05,"y":7.97},{"s":"La","x":46.2,"y":8.41},{"s":"La","x":46.3,"y":8.86},{"s":"La","x":46.38,"y":9.27},{"s":"La","x":46.43,"y":9.57},{"s":"La","x":46.47,"y":9.75},{"s":"La","x":46.52,"y":9.49},{"s":"La","x":46.57,"y":9.12},{"s":"La","x":46.65,"y":8.6},{"s":"La","x":46.75,"y":8.08},{"s":"La","x":46.9,"y":7.56},{"s":"La","x":47.05,"y":7.19},{"s":"La","x":47.2,"y":6.59},{"s":"La","x":47.4,"y":6.74},{"s":"La","x":47.6,"y":5.97},{"s":"La","x":47.8,"y":6.32},{"s":"La","x":48.0,"y":5.66},
{"s":"La","x":48.25,"y":6.09},{"s":"La","x":48.5,"y":5.39},{"s":"La","x":48.75,"y":6.26},{"s":"La","x":49.0,"y":5.3},{"s":"La","x":49.25,"y":6.15},{"s":"La","x":49.5,"y":5.76},{"s":"La","x":49.75,"y":6.41},{"s":"La","x":50.0,"y":5.8},{"s":"La","x":50.25,"y":6.04},{"s":"La","x":50.5,"y":5.5},{"s":"La","x":50.75,"y":6.28},{"s":"La","x":50.9,"y":5.57},
{"s":"La","x":18.5,"y":6.35},{"s":"La","x":18.7,"y":5.59},{"s":"La","x":18.9,"y":6.22},{"s":"La","x":19.1,"y":5.81},{"s":"La","x":19.3,"y":6.49},{"s":"La","x":19.5,"y":6.02},{"s":"La","x":19.7,"y":5.95},{"s":"La","x":19.9,"y":6.35},{"s":"La","x":20.1,"y":5.59},{"s":"La","x":20.3,"y":6.21},{"s":"La","x":20.5,"y":5.8},{"s":"La","x":20.7,"y":6.48},{"s":"La","x":20.9,"y":6.01},{"s":"La","x":21.1,"y":5.94},
{"s":"La","x":23.625,"y":6.33},{"s":"La","x":23.875,"y":5.57},{"s":"La","x":24.125,"y":6.2},{"s":"La","x":24.375,"y":5.79},{"s":"La","x":24.625,"y":6.47},{"s":"La","x":24.875,"y":6.0},{"s":"La","x":25.125,"y":5.92},{"s":"La","x":25.375,"y":6.32},{"s":"La","x":25.625,"y":5.56},{"s":"La","x":25.875,"y":6.19},{"s":"La","x":26.125,"y":5.78},{"s":"La","x":26.375,"y":6.46},{"s":"La","x":26.625,"y":5.99},{"s":"La","x":26.875,"y":5.92},{"s":"La","x":27.125,"y":6.32},{"s":"La","x":27.375,"y":5.56},{"s":"La","x":27.625,"y":6.18},{"s":"La","x":27.875,"y":5.77},{"s":"La","x":28.125,"y":6.45},{"s":"La","x":28.375,"y":5.98},{"s":"La","x":28.625,"y":5.91},{"s":"La","x":28.875,"y":6.31},{"s":"La","x":29.125,"y":5.55},{"s":"La","x":29.375,"y":6.18},{"s":"La","x":29.625,"y":5.77},{"s":"La","x":29.875,"y":6.45},{"s":"La","x":30.125,"y":5.97},{"s":"La","x":30.375,"y":5.9},{"s":"La","x":30.625,"y":6.3},{"s":"La","x":30.875,"y":5.54},{"s":"La","x":31.125,"y":6.17},{"s":"La","x":31.375,"y":5.76},{"s":"La","x":31.625,"y":6.44},{"s":"La","x":31.875,"y":5.97},{"s":"La","x":32.125,"y":5.9},{"s":"La","x":32.375,"y":6.3},{"s":"La","x":32.625,"y":5.53},{"s":"La","x":32.875,"y":6.16},{"s":"La","x":33.125,"y":5.75},{"s":"La","x":33.375,"y":6.43},{"s":"La","x":33.625,"y":5.96},{"s":"La","x":33.875,"y":5.89},{"s":"La","x":34.125,"y":6.29},{"s":"La","x":34.375,"y":5.53},{"s":"La","x":34.625,"y":6.16},{"s":"La","x":34.875,"y":5.75},{"s":"La","x":35.125,"y":6.42},{"s":"La","x":35.375,"y":5.95},{"s":"La","x":35.625,"y":5.88},{"s":"La","x":35.875,"y":6.28},{"s":"La","x":36.125,"y":5.52},{"s":"La","x":36.375,"y":6.15},{"s":"La","x":36.625,"y":5.74},{"s":"La","x":36.875,"y":6.42},{"s":"La","x":37.125,"y":5.95},{"s":"La","x":37.375,"y":5.88},{"s":"La","x":37.625,"y":6.27},{"s":"La","x":37.875,"y":5.51},{"s":"La","x":38.125,"y":6.14},{"s":"La","x":38.375,"y":5.73},{"s":"La","x":38.625,"y":6.41},{"s":"La","x":38.875,"y":5.94},{"s":"La","x":39.125,"y":5.87},{"s":"La","x":39.375,"y":6.27},{"s":"La","x":39.625,"y":5.51},{"s":"La","x":39.875,"y":6.14},{"s":"La","x":40.125,"y":5.72},{"s":"La","x":40.375,"y":6.4},{"s":"La","x":40.625,"y":5.93},{"s":"La","x":40.875,"y":5.86},{"s":"La","x":41.125,"y":6.26},{"s":"La","x":41.375,"y":5.5},{"s":"La","x":41.625,"y":6.13},{"s":"La","x":41.875,"y":5.72},{"s":"La","x":42.125,"y":6.4},{"s":"La","x":42.375,"y":5.93},
{"s":"La","x":48.375,"y":6.28},{"s":"La","x":48.625,"y":5.3},{"s":"La","x":48.875,"y":6.11},{"s":"La","x":49.125,"y":5.58},{"s":"La","x":49.375,"y":6.46},{"s":"La","x":49.625,"y":5.85},{"s":"La","x":49.875,"y":5.76},{"s":"La","x":50.125,"y":6.26},{"s":"La","x":50.375,"y":5.28},{"s":"La","x":50.625,"y":6.1},{"s":"La","x":50.825,"y":5.55},

{"s":"Un","x":18.4,"y":1.49},{"s":"Un","x":18.6,"y":1.22},{"s":"Un","x":18.8,"y":1.54},{"s":"Un","x":19.0,"y":1.37},{"s":"Un","x":19.2,"y":1.61},{"s":"Un","x":19.4,"y":1.09},{"s":"Un","x":19.6,"y":1.44},{"s":"Un","x":19.8,"y":1.25},{"s":"Un","x":20.0,"y":1.56},{"s":"Un","x":20.2,"y":0.91},{"s":"Un","x":20.4,"y":1.48},{"s":"Un","x":20.6,"y":1.29},{"s":"Un","x":20.8,"y":1.55},{"s":"Un","x":21.0,"y":1.14},{"s":"Un","x":21.2,"y":1.4},
{"s":"Un","x":21.3,"y":1.19},{"s":"Un","x":21.4,"y":1.59},{"s":"Un","x":21.45,"y":1.84},{"s":"Un","x":21.5,"y":2.46},{"s":"Un","x":21.55,"y":3.17},{"s":"Un","x":21.6,"y":2.38},{"s":"Un","x":21.65,"y":1.85},{"s":"Un","x":21.7,"y":1.65},{"s":"Un","x":21.8,"y":1.32},{"s":"Un","x":21.9,"y":1.53},{"s":"Un","x":22.0,"y":1.17},{"s":"Un","x":22.1,"y":1.54},{"s":"Un","x":22.2,"y":1.34},{"s":"Un","x":22.3,"y":1.51},{"s":"Un","x":22.4,"y":1.55},{"s":"Un","x":22.5,"y":1.65},{"s":"Un","x":22.6,"y":1.89},{"s":"Un","x":22.65,"y":2.23},{"s":"Un","x":22.7,"y":2.94},{"s":"Un","x":22.75,"y":4.35},{"s":"Un","x":22.78,"y":4.88},{"s":"Un","x":22.82,"y":3.82},{"s":"Un","x":22.87,"y":2.69},{"s":"Un","x":22.92,"y":2.06},{"s":"Un","x":23.0,"y":1.74},{"s":"Un","x":23.1,"y":1.36},{"s":"Un","x":23.2,"y":1.52},
{"s":"Un","x":23.5,"y":0.95},{"s":"Un","x":23.75,"y":1.54},{"s":"Un","x":24,"y":1.19},{"s":"Un","x":24.25,"y":1.44},{"s":"Un","x":24.5,"y":1.24},{"s":"Un","x":24.75,"y":1.44},{"s":"Un","x":25,"y":1.08},{"s":"Un","x":25.25,"y":1.38},{"s":"Un","x":25.5,"y":0.97},{"s":"Un","x":25.75,"y":1.5},{"s":"Un","x":26,"y":1.19},{"s":"Un","x":26.25,"y":1.33},{"s":"Un","x":26.5,"y":0.82},{"s":"Un","x":26.75,"y":1.44},{"s":"Un","x":27,"y":1.21},{"s":"Un","x":27.25,"y":1.5},{"s":"Un","x":27.5,"y":1.09},{"s":"Un","x":27.75,"y":1.35},{"s":"Un","x":28,"y":0.97},{"s":"Un","x":28.25,"y":1.4},{"s":"Un","x":28.5,"y":0.66},{"s":"Un","x":28.75,"y":1.35},{"s":"Un","x":29,"y":1.21},{"s":"Un","x":29.25,"y":1.45},{"s":"Un","x":29.5,"y":1.08},{"s":"Un","x":29.75,"y":1.28},{"s":"Un","x":30,"y":0.87},{"s":"Un","x":30.25,"y":1.4},{"s":"Un","x":30.5,"y":1.1},{"s":"Un","x":30.75,"y":1.48},{"s":"Un","x":31,"y":1.13},{"s":"Un","x":31.25,"y":1.24},{"s":"Un","x":31.5,"y":0.79},{"s":"Un","x":31.75,"y":1.32},{"s":"Un","x":32,"y":1.0},{"s":"Un","x":32.25,"y":1.36},{"s":"Un","x":32.5,"y":1.14},{"s":"Un","x":32.75,"y":1.26},{"s":"Un","x":33,"y":0.92},{"s":"Un","x":33.25,"y":1.4},{"s":"Un","x":33.5,"y":0.68},{"s":"Un","x":33.75,"y":1.25},{"s":"Un","x":34,"y":1.03},{"s":"Un","x":34.25,"y":1.32},{"s":"Un","x":34.5,"y":1.07},{"s":"Un","x":34.75,"y":1.4},{"s":"Un","x":35,"y":0.84},{"s":"Un","x":35.25,"y":1.19},{"s":"Un","x":35.5,"y":0.93},{"s":"Un","x":35.75,"y":1.27},{"s":"Un","x":36,"y":1.1},{"s":"Un","x":36.25,"y":1.31},{"s":"Un","x":36.5,"y":0.74},{"s":"Un","x":36.75,"y":1.22},{"s":"Un","x":37,"y":0.95},{"s":"Un","x":37.25,"y":1.32},{"s":"Un","x":37.5,"y":1.04},{"s":"Un","x":37.75,"y":1.16},{"s":"Un","x":38,"y":0.76},{"s":"Un","x":38.25,"y":1.24},{"s":"Un","x":38.5,"y":0.45},{"s":"Un","x":38.75,"y":1.18},{"s":"Un","x":39,"y":0.96},{"s":"Un","x":39.25,"y":1.31},{"s":"Un","x":39.5,"y":0.98},{"s":"Un","x":39.75,"y":1.11},{"s":"Un","x":40,"y":0.8},{"s":"Un","x":40.25,"y":1.24},{"s":"Un","x":40.5,"y":0.84},{"s":"Un","x":40.75,"y":1.18},{"s":"Un","x":41,"y":1.01},{"s":"Un","x":41.25,"y":1.26},{"s":"Un","x":41.5,"y":0.62},{"s":"Un","x":41.75,"y":1.12},{"s":"Un","x":42,"y":0.88},{"s":"Un","x":42.25,"y":1.2},{"s":"Un","x":42.5,"y":0.95},
{"s":"Un","x":42.7,"y":0.84},{"s":"Un","x":42.9,"y":1.34},{"s":"Un","x":43.1,"y":1.13},{"s":"Un","x":43.3,"y":1.65},{"s":"Un","x":43.45,"y":1.85},{"s":"Un","x":43.6,"y":2.29},{"s":"Un","x":43.7,"y":2.85},{"s":"Un","x":43.8,"y":3.78},{"s":"Un","x":43.85,"y":4.4},{"s":"Un","x":43.9,"y":4.99},{"s":"Un","x":43.95,"y":4.51},{"s":"Un","x":44.0,"y":3.8},{"s":"Un","x":44.1,"y":3.01},{"s":"Un","x":44.2,"y":2.53},{"s":"Un","x":44.35,"y":2.15},{"s":"Un","x":44.5,"y":1.93},{"s":"Un","x":44.7,"y":1.69},{"s":"Un","x":44.9,"y":1.57},{"s":"Un","x":45.1,"y":1.49},{"s":"Un","x":45.3,"y":1.44},{"s":"Un","x":45.5,"y":1.51},{"s":"Un","x":45.7,"y":1.65},{"s":"Un","x":45.9,"y":1.87},{"s":"Un","x":46.05,"y":2.15},{"s":"Un","x":46.2,"y":2.56},{"s":"Un","x":46.3,"y":3.03},{"s":"Un","x":46.38,"y":3.78},{"s":"Un","x":46.43,"y":4.45},{"s":"Un","x":46.47,"y":4.89},{"s":"Un","x":46.52,"y":4.21},{"s":"Un","x":46.57,"y":3.47},{"s":"Un","x":46.65,"y":2.8},{"s":"Un","x":46.75,"y":2.27},{"s":"Un","x":46.9,"y":1.83},{"s":"Un","x":47.05,"y":1.52},{"s":"Un","x":47.2,"y":1.09},{"s":"Un","x":47.4,"y":1.2},{"s":"Un","x":47.6,"y":0.58},{"s":"Un","x":47.8,"y":0.99},{"s":"Un","x":48.0,"y":0.5},
{"s":"Un","x":48.25,"y":1.14},{"s":"Un","x":48.5,"y":0.47},{"s":"Un","x":48.75,"y":0.84},{"s":"Un","x":49.0,"y":0.32},{"s":"Un","x":49.25,"y":0.94},{"s":"Un","x":49.5,"y":0.61},{"s":"Un","x":49.75,"y":1.01},{"s":"Un","x":50.0,"y":0.07},{"s":"Un","x":50.25,"y":0.84},{"s":"Un","x":50.5,"y":0.49},{"s":"Un","x":50.75,"y":0.92},{"s":"Un","x":50.9,"y":0.69},
{"s":"Un","x":18.5,"y":1.48},{"s":"Un","x":18.7,"y":1.17},{"s":"Un","x":18.9,"y":1.66},{"s":"Un","x":19.1,"y":1.32},{"s":"Un","x":19.3,"y":1.26},{"s":"Un","x":19.5,"y":1.55},{"s":"Un","x":19.7,"y":1.0},{"s":"Un","x":19.9,"y":1.46},{"s":"Un","x":20.1,"y":1.15},{"s":"Un","x":20.3,"y":1.64},{"s":"Un","x":20.5,"y":1.3},{"s":"Un","x":20.7,"y":1.25},{"s":"Un","x":20.9,"y":1.53},{"s":"Un","x":21.1,"y":0.98},
{"s":"Un","x":23.625,"y":1.4},{"s":"Un","x":23.875,"y":1.09},{"s":"Un","x":24.125,"y":1.58},{"s":"Un","x":24.375,"y":1.24},{"s":"Un","x":24.625,"y":1.18},{"s":"Un","x":24.875,"y":1.47},{"s":"Un","x":25.125,"y":0.91},{"s":"Un","x":25.375,"y":1.37},{"s":"Un","x":25.625,"y":1.07},{"s":"Un","x":25.875,"y":1.55},{"s":"Un","x":26.125,"y":1.21},{"s":"Un","x":26.375,"y":1.16},{"s":"Un","x":26.625,"y":1.44},{"s":"Un","x":26.875,"y":0.89},{"s":"Un","x":27.125,"y":1.34},{"s":"Un","x":27.375,"y":1.04},{"s":"Un","x":27.625,"y":1.53},{"s":"Un","x":27.875,"y":1.18},{"s":"Un","x":28.125,"y":1.13},{"s":"Un","x":28.375,"y":1.41},{"s":"Un","x":28.625,"y":0.86},{"s":"Un","x":28.875,"y":1.32},{"s":"Un","x":29.125,"y":1.01},{"s":"Un","x":29.375,"y":1.5},{"s":"Un","x":29.625,"y":1.15},{"s":"Un","x":29.875,"y":1.1},{"s":"Un","x":30.125,"y":1.39},{"s":"Un","x":30.375,"y":0.83},{"s":"Un","x":30.625,"y":1.29},{"s":"Un","x":30.875,"y":0.99},{"s":"Un","x":31.125,"y":1.47},{"s":"Un","x":31.375,"y":1.13},{"s":"Un","x":31.625,"y":1.07},{"s":"Un","x":31.875,"y":1.36},{"s":"Un","x":32.125,"y":0.81},{"s":"Un","x":32.375,"y":1.26},{"s":"Un","x":32.625,"y":0.96},{"s":"Un","x":32.875,"y":1.44},{"s":"Un","x":33.125,"y":1.1},{"s":"Un","x":33.375,"y":1.05},{"s":"Un","x":33.625,"y":1.33},{"s":"Un","x":33.875,"y":0.78},{"s":"Un","x":34.125,"y":1.23},{"s":"Un","x":34.375,"y":0.93},{"s":"Un","x":34.625,"y":1.42},{"s":"Un","x":34.875,"y":1.07},{"s":"Un","x":35.125,"y":1.02},{"s":"Un","x":35.375,"y":1.31},{"s":"Un","x":35.625,"y":0.75},{"s":"Un","x":35.875,"y":1.21},{"s":"Un","x":36.125,"y":0.9},{"s":"Un","x":36.375,"y":1.39},{"s":"Un","x":36.625,"y":1.05},{"s":"Un","x":36.875,"y":0.99},{"s":"Un","x":37.125,"y":1.28},{"s":"Un","x":37.375,"y":0.72},{"s":"Un","x":37.625,"y":1.18},{"s":"Un","x":37.875,"y":0.88},{"s":"Un","x":38.125,"y":1.36},{"s":"Un","x":38.375,"y":1.02},{"s":"Un","x":38.625,"y":0.96},{"s":"Un","x":38.875,"y":1.25},{"s":"Un","x":39.125,"y":0.7},{"s":"Un","x":39.375,"y":1.15},{"s":"Un","x":39.625,"y":0.85},{"s":"Un","x":39.875,"y":1.34},{"s":"Un","x":40.125,"y":0.99},{"s":"Un","x":40.375,"y":0.94},{"s":"Un","x":40.625,"y":1.22},{"s":"Un","x":40.875,"y":0.67},{"s":"Un","x":41.125,"y":1.13},{"s":"Un","x":41.375,"y":0.82},{"s":"Un","x":41.625,"y":1.31},{"s":"Un","x":41.875,"y":0.96},{"s":"Un","x":42.125,"y":0.91},{"s":"Un","x":42.375,"y":1.2},
{"s":"Un","x":48.375,"y":0.88},{"s":"Un","x":48.625,"y":0.49},{"s":"Un","x":48.875,"y":1.12},{"s":"Un","x":49.125,"y":0.67},{"s":"Un","x":49.375,"y":0.6},{"s":"Un","x":49.625,"y":0.96},{"s":"Un","x":49.875,"y":0.24},{"s":"Un","x":50.125,"y":0.82},{"s":"Un","x":50.375,"y":0.44},{"s":"Un","x":50.625,"y":1.07},{"s":"Un","x":50.825,"y":0.62}
]},
"resolve":{"axis":{"x":"independent","y":"independent"}},
"layer":[
{"data":{"name":"xrd"},
 "mark":{"type":"line","strokeWidth":1.1,"clip":true},
 "encoding":{
  "x":{"field":"x","type":"quantitative","sort":"ascending","scale":{"domain":[18.4,50.9],"nice":false,"zero":false},
   "axis":{"orient":"bottom","values":[20,25,30,35,40,45,50],"tickSize":-16,"labelPadding":31,"labelFontSize":30,"labelColor":"black","labelFont":"Liberation Sans","title":"2θ (°)","titleFont":"Liberation Serif","titleFontSize":36,"titleFontWeight":"normal","titleColor":"black","titleX":281,"titleY":85,"titleBaseline":"middle","titleAlign":"center"}},
  "y":{"field":"y","type":"quantitative","scale":{"domain":[0,26],"nice":false,"zero":false},
   "axis":{"orient":"left","values":[0,1,2,3,4,5,6,7,8,9,10,11,12,13,14,15,16,17,18,19,20,21,22,23,24,25,26],"tickSize":-16,"labels":false,"title":"Normalized Intensity (arb. units)","titleFont":"Liberation Sans","titleFontSize":35,"titleFontWeight":"normal","titleColor":"black","titleX":-48,"titleY":321,"titleAngle":-90,"titleBaseline":"middle","titleAlign":"center"}},
  "color":{"field":"s","type":"nominal","scale":{"domain":["Gd","Nd","Pr","La","Un"],"range":["#1f45f0","#f08a4e","#9650f0","#c4362c","#4c9b2e"]},"legend":null}
 }},
{"data":{"name":"labels"},
 "mark":{"type":"text","align":"right","baseline":"middle","fontSize":28,"fontWeight":"bold","font":"Liberation Sans"},
 "encoding":{
  "x":{"field":"x","type":"quantitative","scale":{"domain":[18.4,50.9],"nice":false,"zero":false},"axis":null},
  "y":{"field":"y","type":"quantitative","scale":{"domain":[0,26],"nice":false,"zero":false},"axis":null},
  "text":{"field":"label"},
  "color":{"field":"s","type":"nominal","legend":null}
 }},
{"data":{"name":"peaks"},
 "mark":{"type":"text","align":"center","baseline":"middle","angle":270,"fontSize":19,"font":"Liberation Sans","color":"black"},
 "encoding":{
  "x":{"field":"x","type":"quantitative","scale":{"domain":[18.4,50.9],"nice":false,"zero":false},"axis":null},
  "y":{"field":"y","type":"quantitative","scale":{"domain":[0,26],"nice":false,"zero":false},"axis":null},
  "text":{"field":"t"}
 }},
{"data":{"name":"peaks"},
 "mark":{"type":"point","opacity":0},
 "encoding":{
  "x":{"field":"x","type":"quantitative","scale":{"domain":[18.4,50.9],"nice":false,"zero":false},
   "axis":{"orient":"top","values":[20,25,30,35,40,45,50],"tickSize":-16,"labels":false,"title":null}},
  "y":{"field":"y","type":"quantitative","scale":{"domain":[0,26],"nice":false,"zero":false},
   "axis":{"orient":"right","values":[0,1,2,3,4,5,6,7,8,9,10,11,12,13,14,15,16,17,18,19,20,21,22,23,24,25,26],"tickSize":-16,"labels":false,"title":null}}
 }}
]
}
